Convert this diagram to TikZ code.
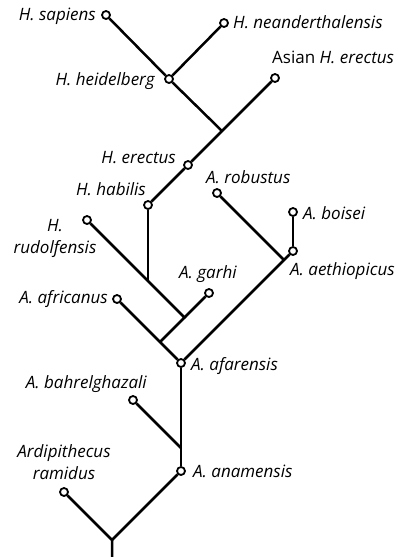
\documentclass[tikz,border=0pt]{standalone}
\usepackage{fontspec}
\setmainfont{Open Sans}
\begin{document}
\begin{tikzpicture}[x=1pt,y=-1pt,
  taxon/.style={circle,draw,fill=white,line width=1.8pt,minimum size=8pt,inner sep=0pt},
  branch/.style={line width=2.5pt},
  lab/.style={inner sep=0pt,font=\fontsize{17}{21.5}\selectfont\itshape,align=center}]
\useasboundingbox (0,0) rectangle (410,557);

% branching points
\coordinate (j1) at (222,131);
\coordinate (j2) at (148,281);
\coordinate (j3) at (184.5,317.5);
\coordinate (j4) at (160,342);
\coordinate (j5) at (284,260);
\coordinate (j6) at (181,448);
\coordinate (j7) at (112,540);
\coordinate (root) at (112,557);

% species
\node[taxon] (sap) at (106,15) {};
\node[taxon] (nea) at (224,23) {};
\node[taxon] (hei) at (169,79) {};
\node[taxon] (asi) at (275,78) {};
\node[taxon] (her) at (188,165) {};
\node[taxon] (hab) at (148,205) {};
\node[taxon] (rud) at (87,220) {};
\node[taxon] (rob) at (217,193) {};
\node[taxon] (boi) at (293,212) {};
\node[taxon] (aet) at (293,251) {};
\node[taxon] (gar) at (209,293) {};
\node[taxon] (afr) at (117,299) {};
\node[taxon] (afa) at (181,363) {};
\node[taxon] (bah) at (133,400) {};
\node[taxon] (ana) at (181,471) {};
\node[taxon] (ard) at (64,492) {};

% branches
\begin{scope}[branch]
\draw (sap) -- (hei);
\draw (nea) -- (hei);
\draw (hei) -- (j1);
\draw (asi) -- (j1) -- (her);
\draw (her) -- (hab);
\draw (hab) -- (j2);
\draw (rud) -- (j2) -- (j3) -- (j4);
\draw (gar) -- (j3);
\draw (afr) -- (j4) -- (afa);
\draw (rob) -- (j5);
\draw (afa) -- (j5) -- (aet);
\draw (boi) -- (aet);
\draw (afa) -- (j6) -- (ana);
\draw (bah) -- (j6);
\draw (ana) -- (j7);
\draw (ard) -- (j7) -- (root);
\end{scope}

% labels (two-line labels are anchored at the baseline of their last line)
\node[lab,anchor=base east] at (96,20) {H. sapiens};
\node[lab,anchor=base west] at (233,28) {H. neanderthalensis};
\node[lab,anchor=base west] at (272,63) {\upshape Asian \itshape H. erectus};
\node[lab,anchor=base east] at (155,85) {H. heidelberg};
\node[lab,anchor=base east] at (176,163) {H. erectus};
\node[lab,anchor=base west] at (206,183) {A. robustus};
\node[lab,anchor=base east] at (146,195) {H. habilis};
\node[lab,anchor=base west] at (303,219) {A. boisei};
\node[lab,anchor=base] at (55,253) {H.\\rudolfensis};
\node[lab,anchor=base west] at (290,275) {A. aethiopicus};
\node[lab,anchor=base west] at (179,278) {A. garhi};
\node[lab,anchor=base east] at (108,303) {A. africanus};
\node[lab,anchor=base west] at (191,370) {A. afarensis};
\node[lab,anchor=base east] at (147,388) {A. bahrelghazali};
\node[lab,anchor=base] at (64,479) {Ardipithecus\\ramidus};
\node[lab,anchor=base west] at (193,477) {A. anamensis};
\end{tikzpicture}
\end{document}
